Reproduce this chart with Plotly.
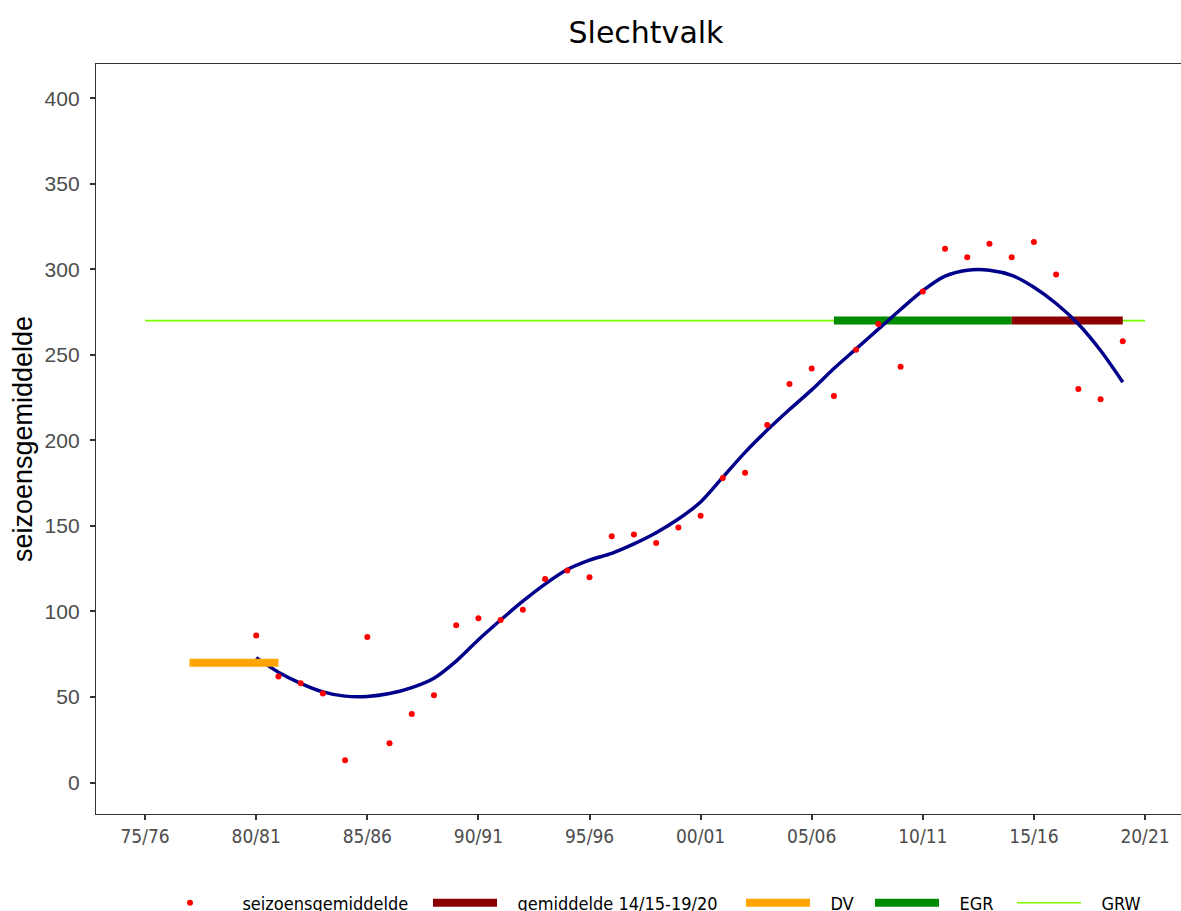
import plotly.graph_objects as go

# ---- data ----
seasons = list(range(1980, 2020))
season_means = [86, 62, 58, 52, 13, 85, 23, 40, 51, 92,
                96, 95, 101, 119, 124, 120, 144, 145, 140, 149,
                156, 178, 181, 209, 233, 242, 226, 253, 268, 243,
                287, 312, 307, 315, 307, 316, 297, 230, 224, 258]
smooth_vals = [73, 64.5, 58, 53, 50.5, 50.3, 52, 55.5, 61, 71,
               83.5, 95, 106, 116, 124.5, 130, 134, 139.5, 146, 154,
               164, 178.5, 193, 206, 218, 229.5, 242, 253.5, 265, 276.5,
               287.5, 296, 299.5, 299.5, 296.5, 289.5, 280, 268, 252.5, 234]

grw_x = [1975, 2020]; grw_y = [270, 270]
egr_x = [2006, 2014]; egr_y = [270, 270]
gem_x = [2014, 2019]; gem_y = [270, 270]
dv_x = [1977, 1981]; dv_y = [70, 70]

tick_years = [1975, 1980, 1985, 1990, 1995, 2000, 2005, 2010, 2015, 2020]
tick_labels = ["75/76", "80/81", "85/86", "90/91", "95/96",
               "00/01", "05/06", "10/11", "15/16", "20/21"]
y_ticks = [0, 50, 100, 150, 200, 250, 300, 350, 400]

LEG_FONT = dict(family="DejaVu Sans Condensed, DejaVu Sans", size=18, color="black")
PAD = "\u00a0\u00a0\u00a0"

fig = go.Figure()
fig.add_trace(go.Scatter(x=grw_x, y=grw_y, mode="lines", name=PAD + "GRW",
                         line=dict(color="#7CFC00", width=1.6), legend="legend5"))
fig.add_trace(go.Scatter(x=egr_x, y=egr_y, mode="lines", name=PAD + "EGR",
                         line=dict(color="#008B00", width=8), legend="legend4"))
fig.add_trace(go.Scatter(x=gem_x, y=gem_y, mode="lines", name=PAD + "gemiddelde 14/15-19/20",
                         line=dict(color="#8B0000", width=8), legend="legend2"))
fig.add_trace(go.Scatter(x=seasons, y=smooth_vals, mode="lines", showlegend=False,
                         line=dict(color="#00008B", width=3.5, shape="spline", smoothing=0.8)))
fig.add_trace(go.Scatter(x=dv_x, y=dv_y, mode="lines", name=PAD + "DV",
                         line=dict(color="#FFA500", width=8), legend="legend3"))
fig.add_trace(go.Scatter(x=seasons, y=season_means, mode="markers", name=PAD + "seizoensgemiddelde",
                         marker=dict(color="#FF0000", size=6), legend="legend"))

L, R, T, B = 96, 0, 64, 97
W, H = 1181, 911
pw = W - L - R
ph = H - T - B

def px2paper(px):
    return (px - L) / pw

leg_y = (H - B - 903) / ph
common = dict(orientation="h", yanchor="middle", y=leg_y, xanchor="left",
              font=LEG_FONT, bgcolor="rgba(0,0,0,0)", itemwidth=64, borderwidth=0)
fig.update_layout(
    legend=dict(x=px2paper(153), **common),
    legend2=dict(x=px2paper(428), **common),
    legend3=dict(x=px2paper(741), **common),
    legend4=dict(x=px2paper(870), **common),
    legend5=dict(x=px2paper(1012), **common),
)

fig.update_layout(
    width=W, height=H,
    margin=dict(l=L, r=R, t=T, b=B, autoexpand=False),
    plot_bgcolor="white", paper_bgcolor="white",
    title=dict(text="Slechtvalk", x=646 / W, xanchor="center", xref="container",
               y=1 - 32 / H, yanchor="middle", yref="container",
               font=dict(family="DejaVu Sans", size=30, color="black")),
    xaxis=dict(range=[1972.79, 2021.62], tickvals=tick_years, ticktext=tick_labels,
               showgrid=False, zeroline=False, showline=True, linecolor="#333333",
               linewidth=1.3, mirror=True, ticks="outside", ticklen=5, tickwidth=1.5,
               tickcolor="#333333",
               tickfont=dict(family="DejaVu Sans Condensed, DejaVu Sans", size=19, color="#4D4D4D")),
    yaxis=dict(range=[-18.4, 420], tickvals=y_ticks,
               showgrid=False, zeroline=False, showline=True, linecolor="#333333",
               linewidth=1.3, mirror=False, ticks="outside", ticklen=5, tickwidth=1.5,
               tickcolor="#333333", ticklabelstandoff=6,
               tickfont=dict(family="Liberation Sans, Arial", size=21, color="#4D4D4D"),
               title=dict(text="seizoensgemiddelde", standoff=4,
                          font=dict(family="Liberation Sans, Arial", size=27, color="black"))),
)

fig.write_html("out.html", config={"displayModeBar": False},
               post_script="document.body.style.margin='0';document.body.style.overflow='hidden';")
